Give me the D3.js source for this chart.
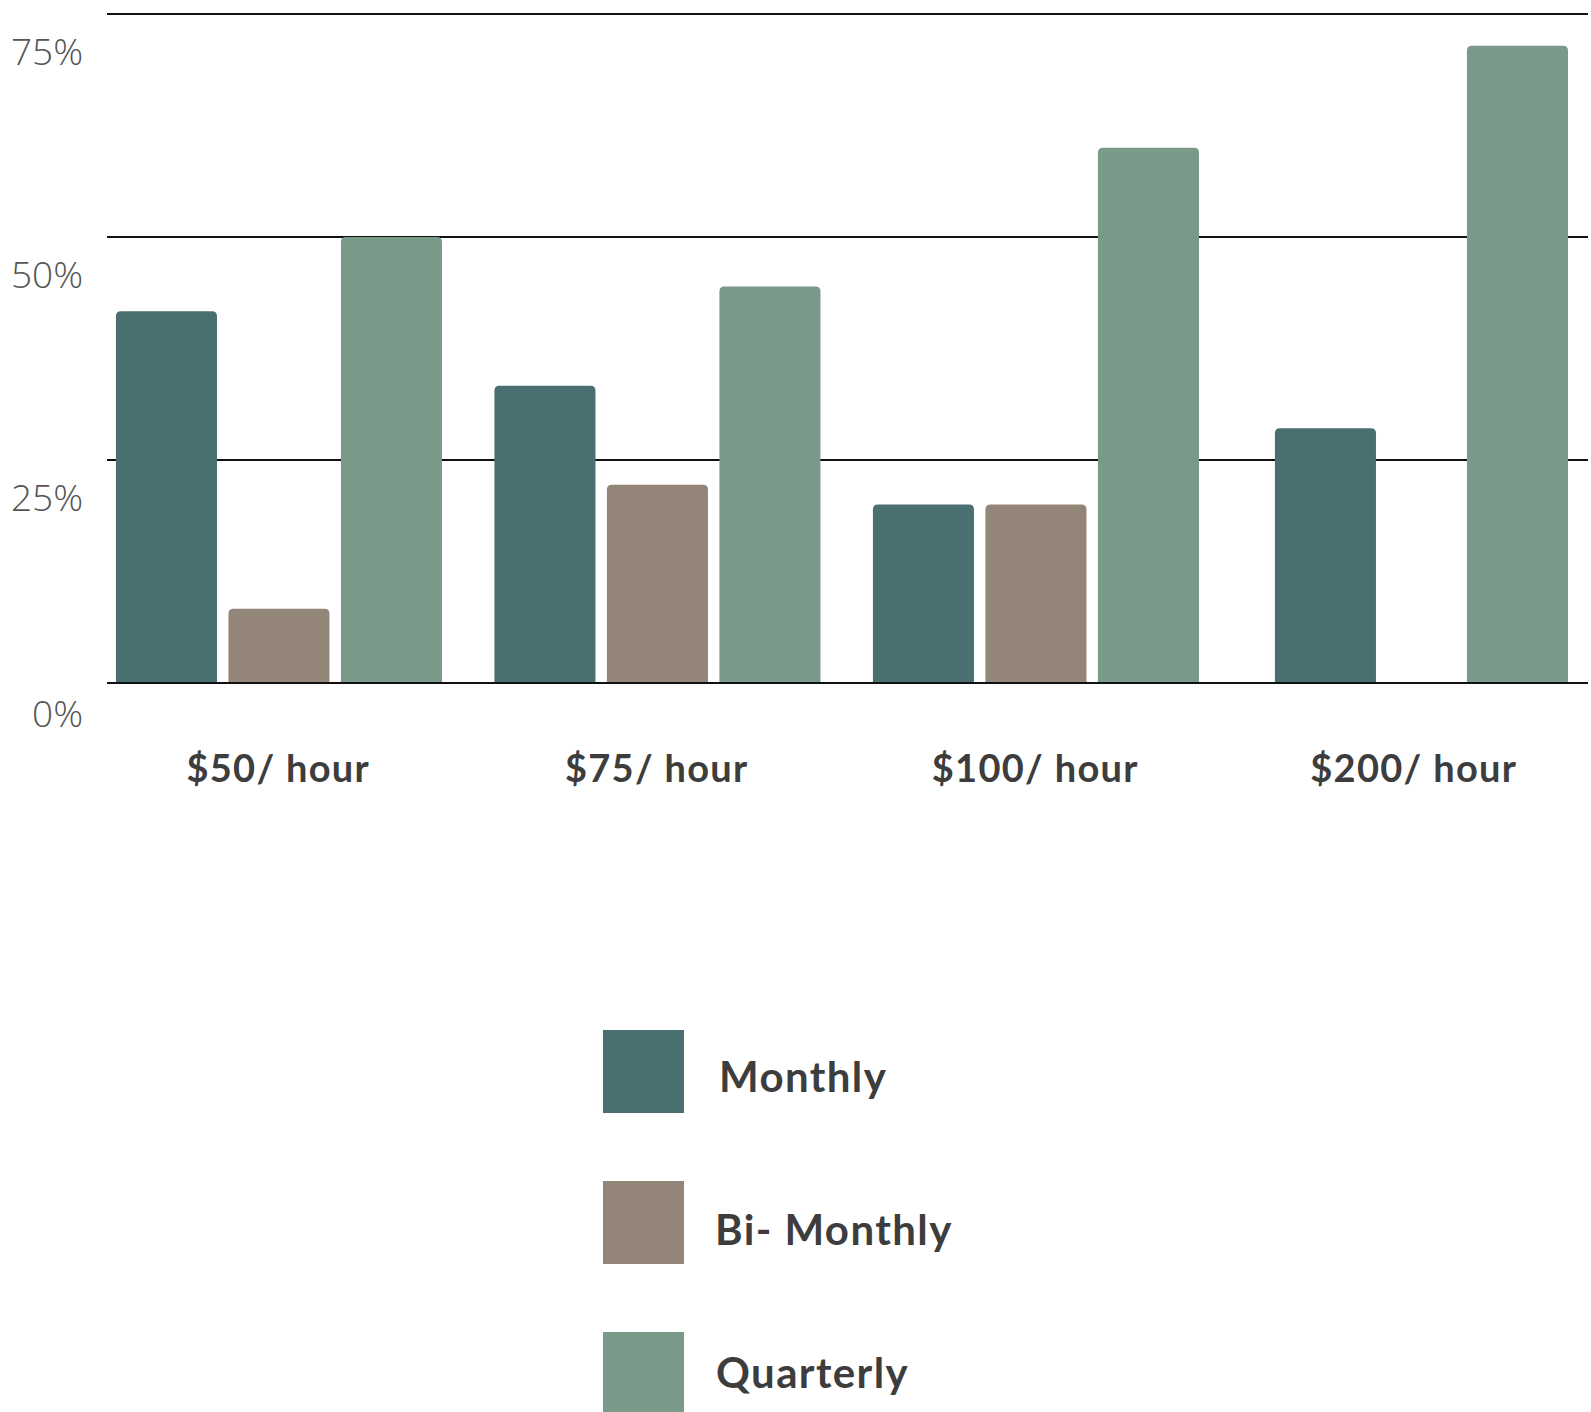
<!DOCTYPE html>
<html><head><meta charset="utf-8">
<script src="https://cdn.jsdelivr.net/npm/d3@7"></script>
<style>body{margin:0;background:#fff}svg{display:block}</style>
</head><body>
<svg id="chart" width="1591" height="1412"></svg>
<script>
const categories = ["$50/ hour", "$75/ hour", "$100/ hour", "$200/ hour"];
const seriesNames = ["Monthly", "Bi- Monthly", "Quarterly"];
const monthly = [41.67, 33.33, 20, 28.57];
const biMonthly = [8.33, 22.22, 20, 0];
const quarterly = [50, 44.44, 60, 71.43];
const seriesColors = ["#4a6f71", "#948579", "#799a88"];
const yTicks = [0, 25, 50, 75];
const yTickLabels = ["0%", "25%", "50%", "75%"];

const seriesValues = [monthly, biMonthly, quarterly];
const svg = d3.select("#chart");

const gridLeft = 107, gridRight = 1588;
const y = d3.scaleLinear().domain([0, 75]).range([683, 14]);
const x = d3.scaleBand().domain(categories).range([89, 1603]).padding(0);
const barW = x.bandwidth() * 0.267;

// gridlines
svg.append("g").selectAll("line").data(yTicks.filter(d => d > 0)).join("line")
  .attr("x1", gridLeft).attr("x2", gridRight)
  .attr("y1", d => y(d)).attr("y2", d => y(d))
  .attr("stroke", "#111").attr("stroke-width", 2);

// y labels
svg.append("g").selectAll("text").data(yTicks).join("text")
  .attr("x", 83).attr("y", (d, i) => y(d) + (d === 0 ? 44 : 51))
  .attr("text-anchor", "end")
  .attr("font-family", "'Open Sans', sans-serif").attr("font-weight", 300)
  .attr("font-size", 37).attr("fill", "#555")
  .text((d, i) => yTickLabels[i]);

function topRounded(x0, y0, w, h, r) {
  r = Math.min(r, h / 2, w / 2);
  return `M${x0},${y0 + h}V${y0 + r}Q${x0},${y0} ${x0 + r},${y0}H${x0 + w - r}Q${x0 + w},${y0} ${x0 + w},${y0 + r}V${y0 + h}Z`;
}

const barsG = svg.append("g");
categories.forEach((cat, ci) => {
  const present = seriesNames.map((s, si) => ({ s, si, v: seriesValues[si][ci] })).filter(d => d.v > 0);
  const c = x(cat) + x.bandwidth() / 2;
  const L = c - x.bandwidth() * 0.3832;
  const inner = d3.scalePoint().domain(present.map(d => d.s))
    .range([L, L + x.bandwidth() * 0.7178]).padding(0.2075).align(0.712);
  barsG.selectAll(null).data(present).join("path")
    .attr("d", d => topRounded(inner(d.s) - barW / 2, y(d.v), barW, y(0) - y(d.v), 5))
    .attr("fill", d => seriesColors[d.si]);
});

// baseline
svg.append("line").attr("x1", gridLeft).attr("x2", gridRight)
  .attr("y1", y(0)).attr("y2", y(0)).attr("stroke", "#111").attr("stroke-width", 2);

// category labels
svg.append("g").selectAll("text").data(categories).join("text")
  .attr("x", d => x(d) + x.bandwidth() / 2).attr("y", 782)
  .attr("text-anchor", "middle")
  .attr("font-family", "Lato, sans-serif").attr("font-weight", 700)
  .attr("font-size", 38).attr("letter-spacing", 1.3).attr("fill", "#3d3d3d")
  .text(d => d);

// legend
const ly = d3.scalePoint().domain(seriesNames).range([1030, 1332]);
const leg = svg.append("g").selectAll("g").data(seriesNames).join("g")
  .attr("transform", d => `translate(603,${ly(d)})`);
leg.append("rect").attr("width", 81).attr("height", 83)
  .attr("fill", (d, i) => seriesColors[i]);
leg.append("text").attr("x", (d, i) => [116, 112, 113][i]).attr("y", (d, i) => [62, 64, 56][i])
  .attr("font-family", "Lato, sans-serif").attr("font-weight", 700)
  .attr("font-size", 42).attr("letter-spacing", 1.4).attr("fill", "#3d3d3d")
  .text(d => d);
</script>
</body></html>
